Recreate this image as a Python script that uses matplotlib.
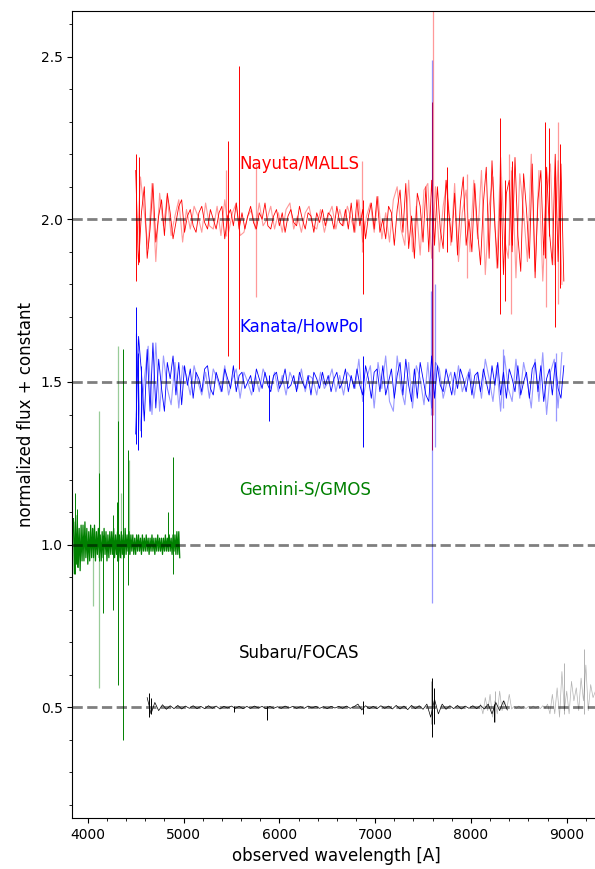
import numpy as np
import matplotlib
matplotlib.use('Agg')
import matplotlib.pyplot as plt
from matplotlib.ticker import MultipleLocator, AutoMinorLocator

# ---- Nayuta/MALLS (offset +2.0) ----
red_start, red_step = 4500, 30
red_dark = [0.15, -0.14, 0.02, 0.10, -0.12, -0.03, 0.11,
            -0.07, 0.01, 0.06, -0.05, 0.08, 0.02, -0.06, -0.01, 0.04, 0.06,
            -0.04, 0.01, 0.03, -0.02, -0.04, 0.02, 0.04, -0.01, -0.03, 0.03, 0.00, -0.03, 0.02,
            0.04, -0.06, 0.01, 0.03, -0.02, 0.05, -0.03,
            0.02, -0.03, 0.01, 0.04, -0.01, -0.03, 0.02, 0.00, 0.05, -0.02,
            -0.03, 0.01, 0.03, -0.02, 0.02, -0.04, 0.01, 0.03, -0.01, -0.02,
            0.04, 0.00, -0.03, 0.02, 0.01, -0.04, 0.02, -0.01, 0.03, -0.02,
            0.02, 0.01, -0.03, 0.04, -0.01, -0.02, 0.03, -0.03, 0.05, -0.04,
            0.06, -0.02, 0.03, -0.06, 0.01, 0.05, -0.03, 0.07, -0.04, 0.00, -0.06, 0.04, 0.02,
            -0.08, 0.03, 0.09, -0.04, 0.11, -0.09, 0.01, -0.12, 0.08, 0.04, -0.07, 0.10,
            -0.10, 0.12, -0.08,
            0.10, -0.03, -0.09, 0.12, 0.02, -0.07, 0.08, -0.11, 0.05, 0.13, -0.08, 0.00, -0.10, 0.11, -0.04,
            -0.14, 0.05, 0.16, -0.12, 0.18, -0.02, -0.15, 0.13, -0.17, 0.08,
            0.12, -0.10, 0.19, -0.05, -0.16, 0.14, 0.03, -0.12, 0.17, -0.18,
            0.06, 0.15, -0.11, 0.16, -0.04, -0.14, 0.20, -0.13, 0.17, -0.19]
red_light_start, red_light_step = 4510, 40
red_light = [-0.12, 0.13, 0.02, -0.09, 0.11, -0.13, 0.08,
             -0.02, 0.07, -0.05, 0.01, 0.06, -0.07, 0.03,
             -0.03, 0.04, 0.01, -0.04, 0.05, -0.02, -0.03, 0.04, -0.05,
             0.06, -0.04, 0.02, 0.05, -0.05,
             -0.04, 0.01, 0.03, -0.03, 0.05, -0.02, 0.00, 0.04, -0.03, 0.02,
             -0.04, 0.03, 0.05, -0.03, 0.01, -0.04, 0.02, 0.04, -0.02, -0.03,
             0.03, -0.04, 0.01, 0.04, -0.03, 0.03, -0.02, 0.04, 0.00, -0.04,
             0.06, -0.07, 0.01, 0.05, -0.04, 0.07, -0.06, 0.02, -0.07, 0.06,
             0.10, -0.03, -0.08, 0.12, -0.10, 0.04, -0.11, 0.09, 0.11,
             -0.12, 0.10,
             -0.10, 0.04, 0.12, -0.08, 0.11, -0.13, 0.02, 0.09, -0.10, 0.12, -0.06,
             0.15, -0.17, 0.04, 0.13, -0.15, 0.19, -0.06, -0.12, 0.16, -0.18, 0.14,
             0.02, -0.13, 0.20, -0.16, 0.15, -0.19, 0.07, 0.17, -0.14, 0.18, -0.20]
red_spike_wave = [4500, 4530, 5465, 5577, 6870, 7590, 7745, 8300, 8360, 8430, 8770, 8820, 8876, 8930]
red_spike_lo = [-0.19, -0.13, -0.42, -0.46, -0.23, -0.71, -0.10, -0.29, -0.25, -0.08, -0.12, -0.05, -0.33, -0.21]
red_spike_hi = [0.20, 0.19, 0.24, 0.47, 0.06, 0.36, 0.16, 0.31, 0.12, 0.18, 0.30, 0.28, 0.15, 0.23]
red_lspike_wave = [5440, 5760, 6860, 7605, 7960, 8400, 8420, 8786, 8906]
red_lspike_lo = [-0.05, -0.24, -0.10, -0.60, -0.18, -0.08, -0.29, -0.27, -0.26]
red_lspike_hi = [0.15, 0.17, 0.18, 0.66, 0.14, 0.20, 0.15, 0.12, 0.30]

# ---- Kanata/HowPol (offset +1.5) ----
blue_start, blue_step = 4500, 30
blue_dark = [-0.16, 0.14, 0.03, -0.12, 0.10, -0.09, 0.12,
             -0.08, 0.07, -0.02, -0.09, 0.06, 0.01, 0.08, -0.04, 0.06, -0.07,
             0.05, -0.01, 0.04, -0.05, 0.03, 0.01, -0.03, 0.04, 0.05, -0.02, -0.04, 0.03, 0.00,
             -0.03, 0.04, 0.01, -0.02, 0.05, -0.03, 0.02,
             0.03, -0.02, 0.00, 0.02, -0.03, 0.04, 0.01, -0.02, 0.03, -0.01,
             -0.03, 0.02, 0.03, -0.02, 0.00, 0.04, -0.02, -0.01, 0.02, -0.03,
             0.03, 0.00, -0.02, 0.02, -0.04, 0.03, 0.01, -0.02, 0.03, -0.01,
             0.02, -0.03, 0.01, 0.03, -0.02, 0.00, 0.04, -0.03, 0.02, -0.02,
             0.04, -0.01, -0.04, 0.05, 0.01, -0.05, 0.03, 0.04, -0.03, 0.05, -0.04, 0.00, 0.04,
             -0.05, 0.02, 0.06, -0.04, 0.07, -0.01, -0.06, 0.04, -0.05, 0.06, 0.01, -0.04,
             -0.06, 0.08, -0.05,
             0.05, -0.01, -0.03, 0.04, 0.00, -0.04, 0.03, -0.02, 0.04, 0.01, -0.03, 0.03, -0.04, 0.02, 0.03,
             -0.03, 0.04, 0.00, -0.04, 0.05, -0.01, 0.06, -0.04, 0.03, -0.05,
             0.04, 0.01, -0.03, 0.05, -0.04, 0.00, 0.03, -0.05, 0.04, 0.06,
             -0.03, 0.05, -0.06, 0.01, 0.04, -0.04, 0.06, -0.02, -0.05, 0.05]
blue_light_start, blue_light_step = 4510, 40
blue_light = [0.13, -0.15, 0.01, 0.11, -0.10, 0.12, -0.09,
              0.08, -0.02, -0.07, 0.06, -0.08, 0.05, 0.02,
              -0.04, 0.05, 0.00, -0.04, 0.03, -0.05, 0.04, 0.01, -0.03,
              0.05, -0.04, 0.01, 0.04, -0.05,
              0.03, 0.00, -0.04, 0.02, -0.03, 0.04, 0.01, -0.02, 0.03, -0.03,
              0.02, -0.04, 0.03, 0.00, -0.02, 0.04, -0.03, 0.02, 0.01, -0.04,
              0.03, -0.02, 0.00, 0.04, -0.03, 0.02, -0.04, 0.03, 0.01, -0.02,
              0.07, -0.06, 0.01, 0.05, -0.08, 0.06, -0.02, 0.08, -0.06, -0.09,
              0.08, -0.02, -0.07, 0.06, -0.08, 0.05, 0.01, -0.07, 0.06,
              -0.08, 0.06,
              0.04, -0.05, 0.00, 0.03, -0.04, 0.05, -0.03, 0.01, 0.04, -0.05, 0.03,
              -0.05, 0.07, 0.01, -0.06, 0.05, -0.09, 0.08, -0.02, -0.06, 0.07, -0.05,
              0.06, 0.00, -0.08, 0.07, -0.06, 0.09, -0.10, 0.03, 0.07, -0.08, 0.09]
blue_spike_wave = [4500, 4520, 4560, 5890, 6870]
blue_spike_lo = [-0.19, -0.21, -0.17, -0.12, -0.20]
blue_spike_hi = [0.23, 0.09, 0.05, 0.02, 0.08]
blue_lspike_wave = [4505, 7580, 7598, 7620, 8330, 8890]
blue_lspike_lo = [-0.10, -0.10, -0.68, -0.20, -0.08, -0.12]
blue_lspike_hi = [0.15, 0.28, 0.99, 0.30, 0.10, 0.09]

# ---- Gemini-S/GMOS (offset +1.0) ----
green_start, green_step = 3850, 10
green_vals = [0.08, -0.09, 0.07, -0.06, 0.09, -0.07, 0.05, -0.08, 0.06, -0.05,
              0.06, -0.05, 0.07, -0.04, 0.05, -0.06, 0.04, -0.05, 0.06, -0.04,
              0.05, -0.04, 0.06, -0.05, 0.04, -0.03, 0.05, -0.04, 0.03, -0.05,
              0.04, -0.04, 0.05, -0.03, 0.04, -0.05, 0.03, -0.04, 0.04, -0.03,
              0.04, -0.03, 0.05, -0.04, 0.03, -0.03, 0.04, -0.05, 0.03, -0.04,
              0.04, -0.03, 0.03, -0.04, 0.05, -0.03, 0.03, -0.02, 0.04, -0.03,
              0.03, -0.02, 0.03, -0.03, 0.02, -0.03, 0.03, -0.02, 0.03, -0.02,
              0.02, -0.03, 0.03, -0.02, 0.02, -0.02, 0.03, -0.02, 0.02, -0.03,
              0.02, -0.02, 0.03, -0.02, 0.02, -0.03, 0.02, -0.02, 0.03, -0.02,
              0.02, -0.02, 0.02, -0.03, 0.02, -0.02, 0.03, -0.02, 0.02, -0.02,
              0.03, -0.02, 0.02, -0.03, 0.03, -0.02, 0.03, -0.03, 0.04, -0.03,
              0.04, -0.04]
green_spike_wave = [3870, 3890, 4118, 4160, 4265, 4300, 4320, 4370, 4418, 4840, 4893]
green_spike_lo = [-0.09, -0.07, -0.05, -0.21, -0.20, -0.05, -0.43, -0.60, -0.125, -0.02, -0.09]
green_spike_hi = [0.16, 0.11, 0.22, 0.03, 0.09, 0.13, 0.38, 0.60, 0.29, 0.10, 0.27]
green_lspike_wave = [4057, 4118, 4320, 4350, 4425]
green_lspike_lo = [-0.19, -0.44, -0.05, -0.04, -0.03]
green_lspike_hi = [0.05, 0.41, 0.61, 0.16, 0.26]

# ---- Subaru/FOCAS (offset +0.5) ----
black_start, black_step = 4620, 40
black_vals = [0.03, -0.02, 0.015, -0.01, 0.008,
              -0.006, 0.005, -0.004, 0.006, -0.005, 0.004, -0.003, 0.005, -0.004, 0.003,
              -0.004, 0.005, -0.003, 0.004, -0.005, 0.003, -0.002, 0.004, -0.003, 0.003,
              -0.004, 0.003, -0.003, 0.004, -0.002, 0.003, -0.004, 0.003, -0.003, 0.002,
              -0.003, 0.004, -0.002, 0.003, -0.003, 0.002, -0.003, 0.004, -0.002, 0.003,
              -0.003, 0.002, -0.004, 0.003, -0.002, 0.003, -0.003, 0.004, -0.003, 0.002,
              0.01, -0.008, 0.005, -0.004, 0.003, -0.004, 0.005, -0.003, 0.004, -0.005,
              0.006, -0.005, 0.004, -0.007, 0.006, -0.004, 0.005, -0.006, 0.01, -0.03,
              0.025, -0.02, 0.01, -0.006, 0.005, -0.004, 0.006, -0.005, 0.004, -0.003,
              0.005, -0.004, 0.006, -0.005, 0.01, -0.02, 0.015, -0.01, 0.02, -0.008]
black_spike_wave = [4640, 4660, 5530, 5870, 6870, 7590, 7610, 8240]
black_spike_lo = [-0.03, -0.02, -0.015, -0.04, -0.02, -0.09, -0.05, -0.045]
black_spike_hi = [0.045, 0.03, 0.005, 0.005, 0.02, 0.09, 0.06, 0.01]
gray_start, gray_step = 8100, 25
gray_vals = [0.01, -0.02, 0.03, -0.01, 0.04, -0.03, 0.02, -0.02, 0.05, -0.01,
             0.02, -0.005, 0.04, -0.005, 0.003, -0.003, 0.004, -0.003, 0.003, -0.004,
             0.003, -0.003, 0.004, -0.002, 0.003, -0.004, 0.005, -0.003, 0.01, -0.02,
             0.04, -0.02, 0.06, -0.03, 0.11, -0.01, 0.05, -0.02, 0.08, 0.02,
             0.06, -0.01, 0.09, 0.02, 0.13, -0.01, 0.07, 0.03, 0.05]
gray_spike_wave = [7580, 8250, 8970, 9180]
gray_spike_lo = [-0.05, -0.045, -0.02, -0.02]
gray_spike_hi = [0.08, 0.05, 0.135, 0.18]

offsets = [2.0, 1.5, 1.0, 0.5]
labels = ['Nayuta/MALLS', 'Kanata/HowPol', 'Gemini-S/GMOS', 'Subaru/FOCAS']
label_colors = ['r', 'b', 'g', 'k']


def grid(start, step, vals):
    return start + step * np.arange(len(vals))


fig = plt.figure(figsize=(5.95, 8.69), dpi=100)
ax = fig.add_axes([0.1218, 0.0587, 0.887, 0.9286])


def draw(ax, off, color, dark, light, sp, lsp, lw=0.6):
    if light is not None:
        ax.plot(grid(*light[:2], light[2]), off + np.array(light[2]), color=color, lw=0.8, alpha=0.4)
    ax.plot(grid(*dark[:2], dark[2]), off + np.array(dark[2]), color=color, lw=lw)
    if lsp is not None:
        ax.vlines(lsp[0], off + np.array(lsp[1]), off + np.array(lsp[2]), color=color, lw=0.9, alpha=0.4)
    ax.vlines(sp[0], off + np.array(sp[1]), off + np.array(sp[2]), color=color, lw=0.7)


draw(ax, 2.0, 'r', (red_start, red_step, red_dark), (red_light_start, red_light_step, red_light),
     (red_spike_wave, red_spike_lo, red_spike_hi), (red_lspike_wave, red_lspike_lo, red_lspike_hi))
draw(ax, 1.5, 'b', (blue_start, blue_step, blue_dark), (blue_light_start, blue_light_step, blue_light),
     (blue_spike_wave, blue_spike_lo, blue_spike_hi), (blue_lspike_wave, blue_lspike_lo, blue_lspike_hi))
draw(ax, 1.0, 'g', (green_start, green_step, green_vals), None,
     (green_spike_wave, green_spike_lo, green_spike_hi), (green_lspike_wave, green_lspike_lo, green_lspike_hi),
     lw=0.9)
draw(ax, 0.5, 'k', (gray_start, gray_step, gray_vals), None,
     (gray_spike_wave, gray_spike_lo, gray_spike_hi), None, lw=0.5)
ax.lines[-1].set_alpha(0.3)
ax.collections[-1].set_alpha(0.3)
draw(ax, 0.5, 'k', (black_start, black_step, black_vals), None,
     (black_spike_wave, black_spike_lo, black_spike_hi), None, lw=0.5)

for off, lab, c in zip(offsets, labels, label_colors):
    ax.axhline(off, color='k', alpha=0.5, ls='--', lw=2, zorder=5)
    ax.text(5580, off + 0.17, lab, color=c, fontsize=12, va='center', ha='left')

ax.set_xlim(3840, 9350)
ax.set_ylim(0.16, 2.64)
ax.xaxis.set_major_locator(MultipleLocator(1000))
ax.xaxis.set_minor_locator(AutoMinorLocator(5))
ax.yaxis.set_major_locator(MultipleLocator(0.5))
ax.yaxis.set_minor_locator(AutoMinorLocator(5))
ax.set_xlabel('observed wavelength [A]', fontsize=12)
ax.set_ylabel('normalized flux + constant', fontsize=12)
ax.spines['right'].set_visible(False)

fig.savefig('out.png', dpi=100)
